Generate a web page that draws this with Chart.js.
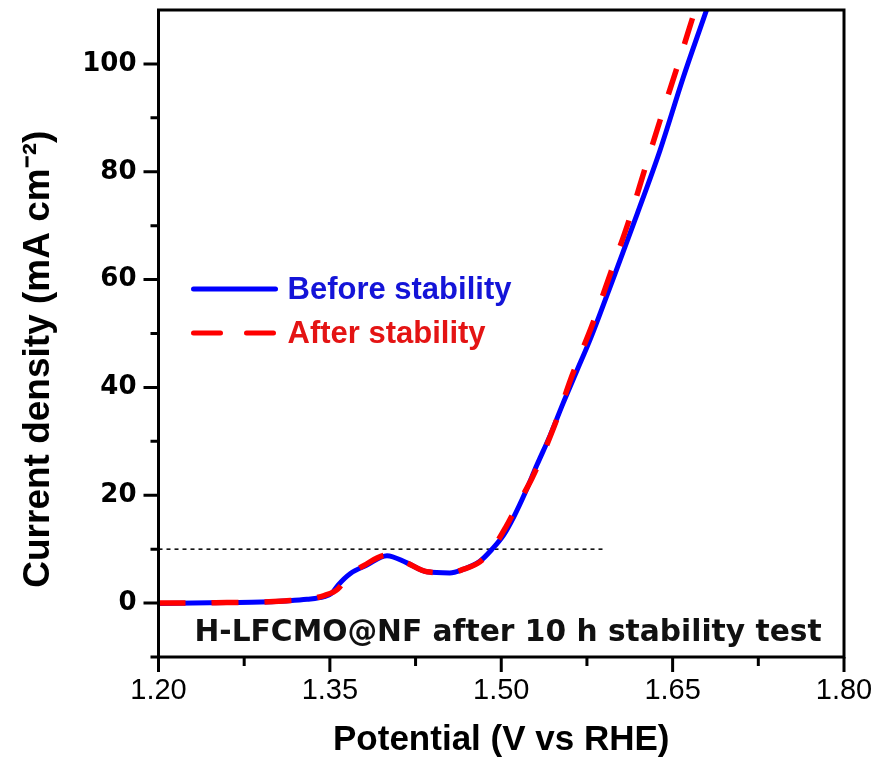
<!DOCTYPE html>
<html>
<head>
<meta charset="utf-8">
<script src="https://cdn.jsdelivr.net/npm/chart.js@4/dist/chart.umd.min.js"></script>
<style>
  html, body { margin: 0; padding: 0; background: #ffffff; }
  #wrap { width: 877px; height: 765px; }
  canvas { display: block; }
</style>
</head>
<body>
<div id="wrap"><canvas id="c" width="877" height="765"></canvas></div>
<script>
// ---- data ----
const beforeV = [1.200, 1.230, 1.260, 1.290, 1.310, 1.330, 1.345, 1.352, 1.357, 1.368, 1.382, 1.400, 1.417, 1.435, 1.455, 1.466, 1.481, 1.492, 1.502, 1.511, 1.521, 1.531, 1.543, 1.554, 1.566, 1.578, 1.598, 1.619, 1.639, 1.659, 1.680, 1.690];
const beforeJ = [-0.1, 0.0, 0.1, 0.2, 0.4, 0.7, 1.2, 1.9, 3.3, 5.5, 7.0, 8.8, 7.5, 5.8, 5.6, 6.2, 7.7, 10.0, 12.6, 16.0, 20.5, 25.5, 31.2, 37.0, 43.0, 49.0, 60.2, 72.2, 84.0, 97.3, 110.2, 116.5];
const afterV  = [1.200, 1.230, 1.260, 1.290, 1.310, 1.330, 1.345, 1.357, 1.365, 1.380, 1.400, 1.417, 1.435, 1.455, 1.466, 1.481, 1.492, 1.504, 1.515, 1.527, 1.546, 1.562, 1.580, 1.596, 1.612, 1.626, 1.640, 1.655, 1.668, 1.680];
const afterJ  = [0.0, 0.0, 0.1, 0.2, 0.4, 0.7, 1.4, 2.6, 4.8, 7.0, 8.9, 7.5, 5.8, 5.6, 6.2, 7.6, 10.0, 14.1, 18.5, 23.2, 32.6, 42.2, 51.8, 61.4, 71.1, 80.7, 90.2, 100.1, 108.9, 117.0];
const refV = [1.20, 1.59];
const refJ = [10, 10];

const seriesNames = ['Before stability', 'After stability'];
const xTicksMajor = [1.20, 1.35, 1.50, 1.65, 1.80];
const xTicksMinor = [1.275, 1.425, 1.575, 1.725];
const yTicksMajor = [0, 20, 40, 60, 80, 100];
const yTicksMinor = [-10, 10, 30, 50, 70, 90];
const xTitle = 'Potential (V vs RHE)';
const yTitle = 'Current density (mA cm\u207B\u00B2)';
const note = 'H-LFCMO@NF after 10 h stability test';

const toPts = (xs, ys) => xs.map((x, i) => ({ x: x, y: ys[i] }));

const framePlugin = {
  id: 'frame',
  afterDatasetsDraw(chart) {
    const { ctx, chartArea: a, scales: { x, y } } = chart;
    ctx.save();
    ctx.strokeStyle = '#000';
    ctx.lineWidth = 3;
    ctx.lineCap = 'butt';
    ctx.strokeRect(a.left, a.top, a.right - a.left, a.bottom - a.top);
    ctx.beginPath();
    xTicksMajor.forEach(v => { const p = x.getPixelForValue(v); ctx.moveTo(p, a.bottom); ctx.lineTo(p, a.bottom + 15); });
    xTicksMinor.forEach(v => { const p = x.getPixelForValue(v); ctx.moveTo(p, a.bottom); ctx.lineTo(p, a.bottom + 9); });
    yTicksMajor.forEach(v => { const p = y.getPixelForValue(v); ctx.moveTo(a.left, p); ctx.lineTo(a.left - 15, p); });
    yTicksMinor.forEach(v => { const p = y.getPixelForValue(v); ctx.moveTo(a.left, p); ctx.lineTo(a.left - 8, p); });
    ctx.stroke();

    // legend
    const ds = chart.data.datasets;
    const lx0 = a.left + 35, lx1 = a.left + 117, tx = a.left + 129;
    const rows = [{ d: ds[0], yy: a.top + 279, txt: '#1414d8' }, { d: ds[1], yy: a.top + 323, txt: '#e41414' }];
    rows.forEach(r => {
      ctx.beginPath();
      ctx.strokeStyle = r.d.borderColor;
      ctx.lineWidth = 5;
      ctx.lineCap = 'round';
      ctx.setLineDash(r.d.borderDash || []);
      ctx.moveTo(lx0, r.yy); ctx.lineTo(lx1, r.yy);
      ctx.stroke();
      ctx.setLineDash([]);
      ctx.fillStyle = r.txt;
      ctx.font = 'bold 31px "Liberation Sans", Arial, sans-serif';
      ctx.textAlign = 'left';
      ctx.textBaseline = 'middle';
      ctx.fillText(r.d.label, tx, r.yy + 1);
    });

    // annotation
    ctx.fillStyle = '#111';
    ctx.font = 'bold 29.7px "DejaVu Sans", sans-serif';
    ctx.textAlign = 'left';
    ctx.textBaseline = 'alphabetic';
    ctx.fillText(note, a.left + 36, a.bottom - 16);
    ctx.restore();
  }
};

const noPad = s => { s.paddingLeft = 0; s.paddingRight = 0; s.paddingTop = 0; s.paddingBottom = 0; };

new Chart(document.getElementById('c'), {
  type: 'line',
  data: {
    datasets: [
      {
        label: seriesNames[0],
        data: toPts(beforeV, beforeJ),
        borderColor: '#0000ff',
        borderWidth: 5,
        pointRadius: 0,
        cubicInterpolationMode: 'monotone',
        order: 2
      },
      {
        label: seriesNames[1],
        data: toPts(afterV, afterJ),
        borderColor: '#ff0000',
        borderWidth: 5.5,
        borderDash: [27, 26],
        pointRadius: 0,
        cubicInterpolationMode: 'monotone',
        order: 1
      },
      {
        label: 'ref',
        data: toPts(refV, refJ),
        borderColor: '#000000',
        borderWidth: 1.5,
        borderDash: [4, 4],
        pointRadius: 0,
        order: 3
      }
    ]
  },
  options: {
    responsive: false,
    animation: false,
    devicePixelRatio: 1,
    layout: { padding: { left: 0, right: 33, top: 10, bottom: 0 } },
    plugins: { legend: { display: false }, tooltip: { enabled: false } },
    scales: {
      x: {
        type: 'linear',
        position: 'bottom',
        min: 1.2, max: 1.8,
        afterBuildTicks: s => { s.ticks = xTicksMajor.map(v => ({ value: v })); },
        afterFit: s => { s.height = 108; noPad(s); },
        grid: { display: false, drawTicks: false },
        border: { display: false },
        ticks: {
          color: '#000',
          padding: 17,
          maxRotation: 0,
          autoSkip: false,
          font: { family: '"Liberation Sans", Arial, sans-serif', size: 29, weight: 'normal' },
          callback: v => Number(v).toFixed(2)
        },
        title: {
          display: true,
          text: xTitle,
          color: '#000',
          font: { family: '"Liberation Sans", Arial, sans-serif', size: 35, weight: 'bold' },
          padding: { top: 0, bottom: 4 }
        }
      },
      y: {
        type: 'linear',
        position: 'left',
        min: -10, max: 110,
        afterBuildTicks: s => { s.ticks = yTicksMajor.map(v => ({ value: v })); },
        afterFit: s => { s.width = 158.5; noPad(s); },
        grid: { display: false, drawTicks: false },
        border: { display: false },
        ticks: {
          color: '#000',
          padding: 22,
          autoSkip: false,
          font: { family: '"DejaVu Sans", sans-serif', size: 26, weight: 'bold' },
          callback: v => String(v)
        },
        title: {
          display: true,
          text: yTitle + '     ',
          color: '#000',
          font: { family: '"Liberation Sans", Arial, sans-serif', size: 37, weight: 'bold' },
          padding: { top: 17, bottom: 0 }
        }
      }
    }
  },
  plugins: [framePlugin]
});
</script>
</body>
</html>
